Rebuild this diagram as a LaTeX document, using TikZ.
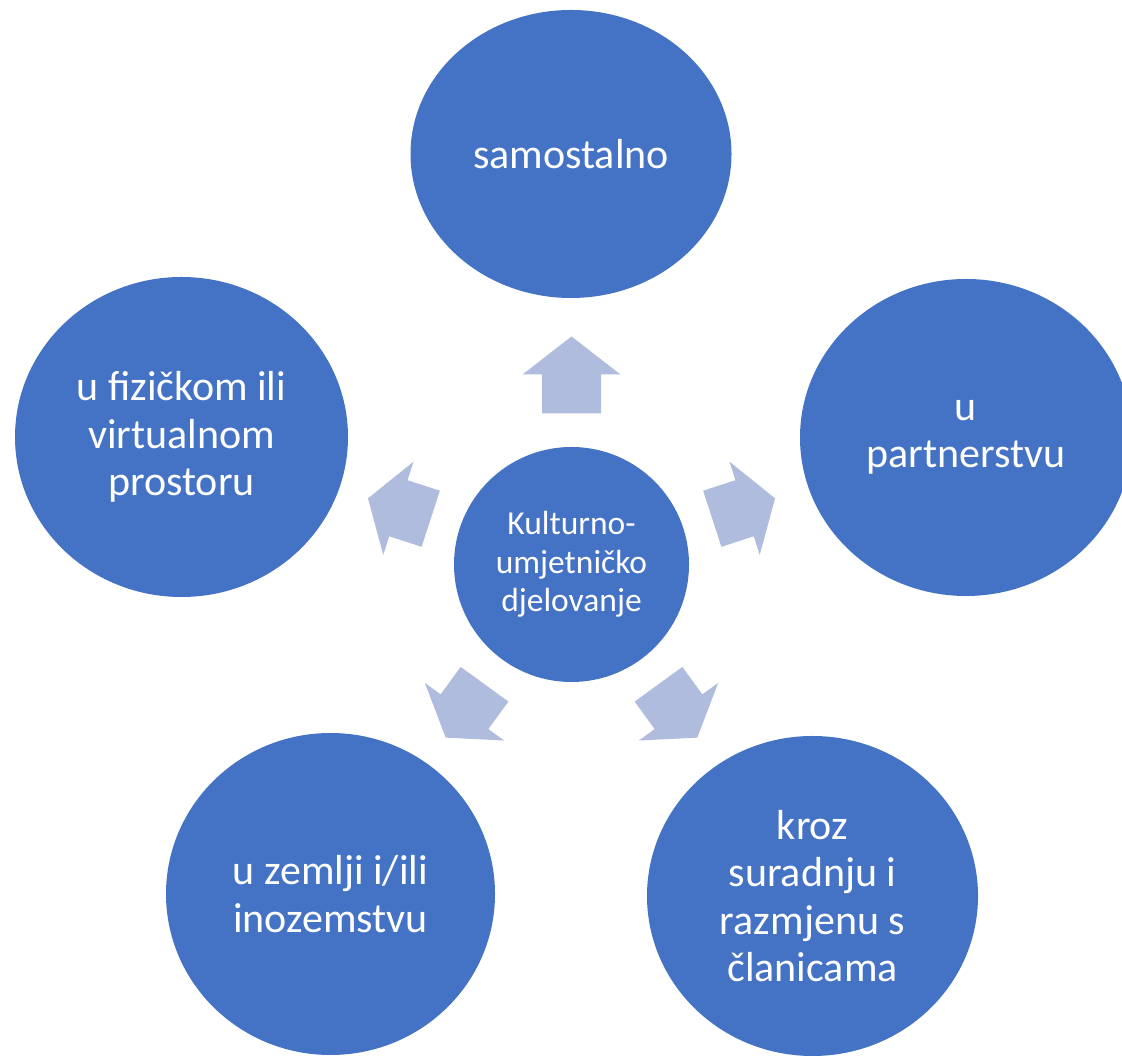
\documentclass[tikz,border=0pt]{standalone}
\usepackage{fontspec}
\setmainfont{Carlito}
\usetikzlibrary{shapes.geometric}
\definecolor{circblue}{RGB}{68,114,196}
\definecolor{arrowblue}{RGB}{175,188,222}
\tikzset{
  outer/.style={ellipse, fill=circblue, text=white, inner sep=0pt, align=center,
    font=\fontsize{21}{23.75}\selectfont},
  hub/.style={circle, fill=circblue, text=white, inner sep=0pt, minimum size=117.5pt,
    align=center, font=\fontsize{16.75}{19.15}\selectfont},
  blockarrow/.style={fill=arrowblue}
}
\begin{document}
\begin{tikzpicture}[x=0.5pt,y=0.5pt]
\clip (0,0) rectangle (1122,1058);
\node[hub] (hub) at (571.5,493.5) {Kulturno-\\umjetničko\\djelovanje};
\node[outer, minimum width=160.5pt, minimum height=144pt] (samo) at (571,904) {samostalno};
\node[outer, minimum width=166pt, minimum height=158.5pt] (partner) at (966,620.5) {u\\partnerstvu};
\node[outer, minimum width=165.5pt, minimum height=160pt] (suradnja) at (812.5,162) {kroz\\suradnju i\\razmjenu s\\članicama};
\node[outer, minimum width=164.5pt, minimum height=161pt] (zemlja) at (330.5,164) {u zemlji i/ili\\inozemstvu};
\node[outer, minimum width=166.5pt, minimum height=160pt] (prostor) at (181.5,621) {u fizičkom ili\\virtualnom\\prostoru};
% arrows from the hub
\foreach \ang/\base/\neck/\tip in {90/151/190/228, 18/148/182/214, -54/148/182/214, -126/148/182/214, 162/148/182/214}{
  \begin{scope}[shift={(hub.center)}, rotate=\ang]
    \fill[blockarrow] (\base,-29.5) -- (\neck,-29.5) -- (\neck,-49) -- (\tip,0)
      -- (\neck,49) -- (\neck,29.5) -- (\base,29.5) -- cycle;
  \end{scope}
}
\end{tikzpicture}
\end{document}
